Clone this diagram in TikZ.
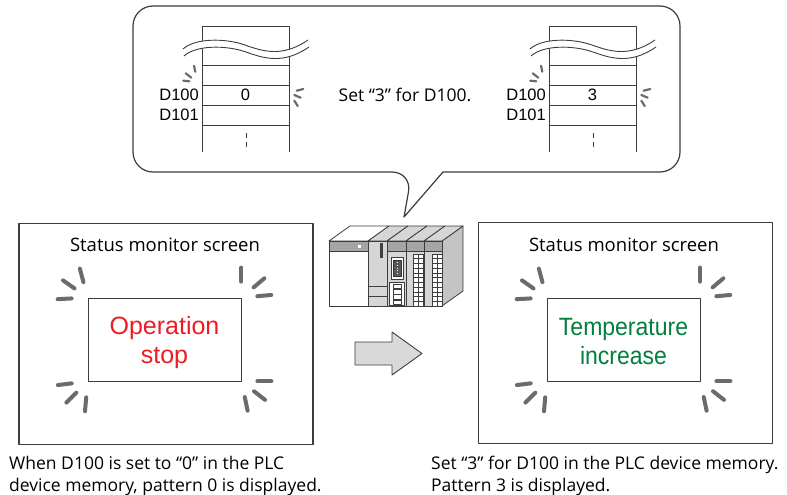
\documentclass[tikz,border=0pt]{standalone}
\usepackage{fontspec}
\setmainfont{Open Sans}
\newfontfamily\arialfont{Liberation Sans}
\newfontfamily\narrowarial[FakeStretch=0.92]{Liberation Sans}

\definecolor{outline}{HTML}{3C3C3C}
\definecolor{sparkgray}{HTML}{6B6B6B}
\definecolor{stopred}{HTML}{ED1C24}
\definecolor{risegreen}{HTML}{007F3F}
\definecolor{plcband}{HTML}{A5A5A5}
\definecolor{plcbody}{HTML}{D6D6D6}
\definecolor{plcside}{HTML}{C4C4C4}
\definecolor{arrowfill}{HTML}{D9D9D9}

\tikzset{
  bubble/.style={draw=outline, line width=1.2},
  screen/.style={draw=outline, line width=1.3, minimum width=294, minimum height=221, inner sep=0},
  panel/.style={draw=outline, line width=0.8, minimum width=153, minimum height=83},
  message/.style={align=center, inner sep=0, font=\arialfont\fontsize{25}{29}\selectfont},
  spark/.style={draw=sparkgray, line width=4, line cap=round},
  tick/.style={draw=sparkgray, line width=2.2, line cap=round},
  memlabel/.style={font=\arialfont\fontsize{16.5}{18}\selectfont, inner sep=1},
  title/.style={font=\fontsize{18.5}{22}\selectfont, inner sep=0},
  caption/.style={font=\fontsize{17.5}{22}\selectfont, align=left, inner sep=0},
}

% three flash strokes around a corner
\newcommand\sparks[2]{%
  \foreach \a in {#2}
    \draw[spark] ([shift={(\a:16)}]#1) -- ([shift={(\a:30)}]#1);}

\begin{document}
\begin{tikzpicture}[x=1pt, y=-1pt, line join=round]
  \useasboundingbox (0,0) rectangle (787,495);

  % speech bubble
  \draw[bubble] (404,217) -- (443,172) [rounded corners=20] -- (680,172) -- (680,6)
    -- (133,6) -- (133,172) -- (412,172) [sharp corners] -- cycle;

  % device memory before and after
  \foreach \dx/\val in {0/0, 347/3} {
    \begin{scope}[xshift=\dx]
      \draw[outline, line width=0.9] (202,152) -- (202,26) -- (289,26) -- (289,152);
      \foreach \r in {65,85,105,125}
        \draw[outline, line width=0.9] (202,\r) -- (289,\r);
      \fill[white] (183,49) .. controls (195,38) and (225,38) .. (245,45)
        .. controls (262,51) and (282,58) .. (308,40) -- (309,47)
        .. controls (283,65) and (263,58) .. (246,52)
        .. controls (226,45) and (196,45) .. (184,56) -- cycle;
      \draw[outline, line width=0.9] (183,49) .. controls (195,38) and (225,38) .. (245,45)
        .. controls (262,51) and (282,58) .. (308,40);
      \draw[outline, line width=0.9] (184,56) .. controls (196,45) and (226,45) .. (246,52)
        .. controls (263,58) and (283,65) .. (309,47);
      \draw[outline, line width=0.9, dash pattern=on 5 off 4] (246,133) -- (246,151);
      \node[memlabel, anchor=east] (d100-\val) at (200,95) {D100};
      \node[memlabel, anchor=east] (d101-\val) at (200,115) {D101};
      \node[memlabel] (cell-\val) at (245.5,95) {\val};
      \draw[tick] (194,65.7) -- (195.3,71.7);
      \draw[tick] (185.7,73.3) -- (191.3,77.7);
      \draw[tick] (183.3,80.7) -- (189.3,81.3);
      \draw[tick] (296.7,90.7) -- (303.3,89);
      \draw[tick] (294.3,95) -- (300.7,97.7);
      \draw[tick] (294.3,100.7) -- (297.7,106);
    \end{scope}
  }
  \node[font=\fontsize{17.5}{20}\selectfont] (settext) at (405,95) {Set “3” for D100.};

  % screens
  \node[screen] (lscreen) at (166,334) {};
  \node[screen] (rscreen) at (625.5,333) {};
  \node[title] (ltitle) at (165,245) {Status monitor screen};
  \node[title] (rtitle) at (624,245) {Status monitor screen};
  \node[panel] (lpanel) at (164.5,339.5) {};
  \node[panel] (rpanel) at (623.5,339.5) {};
  \node[message, text=stopred] (lmsg) at ([yshift=-3.5pt]lpanel.center) {Operation\\stop};
  \node[message, text=risegreen, font=\narrowarial\fontsize{25}{29}\selectfont]
    (rmsg) at ([yshift=-2.5pt]rpanel.center) {Temperature\\increase};
  \foreach \p in {lpanel, rpanel} {
    \sparks{\p.north west}{-105,-145,-183}
    \sparks{\p.north east}{-90,-40,-5}
    \sparks{\p.south west}{173,135,95}
    \sparks{\p.south east}{0,38,78}
  }

  % PLC rack
  \draw[outline, fill=plcside, line width=0.8] (442,241) -- (463,226) -- (463,291) -- (442,306) -- cycle;
  \draw[outline, fill=white, line width=0.8] (329,241) -- (350,226) -- (389,226) -- (368,241) -- cycle;
  \foreach \xa/\xb in {368/387, 387/406, 406/424, 424/442}
    \draw[outline, fill=plcbody, line width=0.8] (\xa,241) -- (\xa+21,226) -- (\xb+21,226) -- (\xb,241) -- cycle;
  \draw[outline, fill=white, line width=0.8] (329,241) rectangle (368,306);
  \draw[outline, fill=plcband, line width=0.8] (329,241) rectangle (368,251);
  \fill[white] (358,245) rectangle (360.5,247.5);
  \foreach \xa/\xb in {368/387, 387/406, 406/424, 424/442}
    \draw[outline, fill=plcbody, line width=0.8] (\xa,241) rectangle (\xb,306);
  \foreach \xa/\xb in {387/406, 406/424, 424/442}
    \draw[outline, fill=plcband, line width=0.8] (\xa,241) rectangle (\xb,251);
  % cpu module
  \fill[black!75] (379.5,243) rectangle (382.5,258);
  \draw[outline, line width=0.6] (368,286) -- (387,286) (368,296) -- (387,296);
  % communication module
  \draw[outline, fill=white, line width=0.7] (391.5,257) rectangle (403,279);
  \draw[black!80, fill=black!65, line width=0.5] (393.5,260) rectangle (401,276);
  \foreach \k in {0,...,4}
    \fill[white] (396.5,262+2.8*\k) rectangle (398,263+2.8*\k);
  \draw[outline, fill=white, line width=0.7] (389,282) rectangle (404,305);
  \foreach \k in {0,...,3}
    \draw[outline, line width=0.6] (393,284+5.3*\k) rectangle (401,288.5+5.3*\k);
  % i/o modules
  \foreach \lx in {413,432} {
    \draw[outline, fill=white, line width=0.6] (\lx,254) rectangle (\lx+10,306);
    \draw[outline, line width=0.5] (\lx+5,254) -- (\lx+5,306);
    \foreach \k in {1,...,10}
      \draw[outline, line width=0.5] (\lx,254+4.73*\k) -- (\lx+10,254+4.73*\k);
  }

  % big arrow
  \draw[outline, fill=arrowfill, line width=0.9] (355,342) -- (392,342) -- (392,332)
    -- (422,353.5) -- (392,375) -- (392,365) -- (355,365) -- cycle;

  % captions
  \node[caption, anchor=north west] (lcaption) at (9,455.5)
    {When D100 is set to “0” in the PLC\\device memory, pattern 0 is displayed.};
  \node[caption, anchor=north west] (rcaption) at (431,455.5)
    {Set “3” for D100 in the PLC device memory.\\Pattern 3 is displayed.};
\end{tikzpicture}
\end{document}
